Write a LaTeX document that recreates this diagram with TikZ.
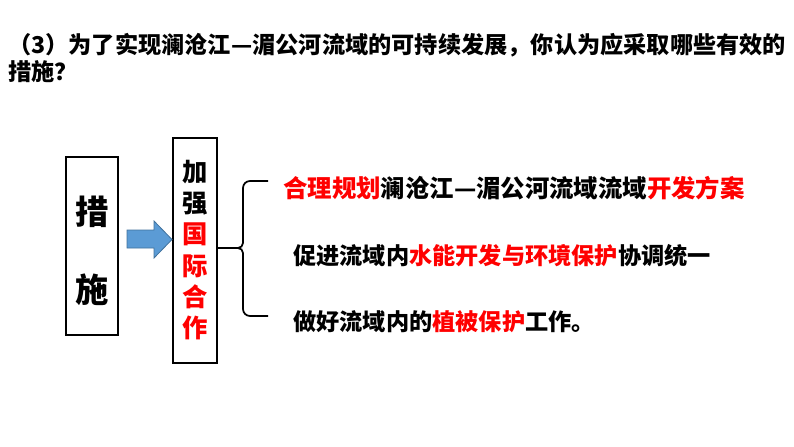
\documentclass[tikz,border=0pt]{standalone}
\usepackage{fontspec}
\setmainfont{Noto Sans CJK SC}
\begin{document}
\begin{tikzpicture}[x=0.75pt,y=-0.75pt,
  box/.style={draw,line width=1.5pt,fill=white},
  txt/.style={anchor=west,inner sep=0pt,font=\fontsize{17.4}{20}\selectfont\bfseries}]
\useasboundingbox (0,0) rectangle (794,447);
\node[txt] (t1) at (8,45) {（3）为了实现澜沧江—湄公河流域的可持续发展，你认为应采取哪些有效的};
\node[txt] (t2) at (8,72) {措施？};
\draw[box] (66,157) rectangle (118,335);
\node[font=\fontsize{25}{28}\selectfont\bfseries] (c1) at (92,212) {措};
\node[font=\fontsize{25}{28}\selectfont\bfseries] (c2) at (92,290) {施};
\draw[box] (173,138) rectangle (217,363);
\node (m) at (195,250) [align=center,font=\fontsize{19}{23.5}\selectfont\bfseries,inner sep=0pt] {加\\强\\\textcolor{red}{国}\\\textcolor{red}{际}\\\textcolor{red}{合}\\\textcolor{red}{作}};
\draw[fill={rgb,255:red,91;green,155;blue,213},draw={rgb,255:red,65;green,113;blue,156},line width=0.6pt]
  (127,230) -- (154,230) -- (154,221) -- (172,239.5) -- (154,258) -- (154,248) -- (127,248) -- cycle;
\coordinate (b0) at (217,248);
\draw[line width=1.3pt] (b0) -- (238,248) to[out=0,in=-90] (243,243) -- (243,188) to[out=90,in=180] (250,181) -- (268,181);
\draw[line width=1.3pt] (238,248) to[out=0,in=90] (243,253) -- (243,309) to[out=-90,in=180] (250,316) -- (268,316);
\node[txt,font=\fontsize{18.3}{20}\selectfont\bfseries] (l1) at (283,188) {\textcolor{red}{合理规划}澜沧江—湄公河流域流域\textcolor{red}{开发方案}};
\node[txt] (l2) at (293,256) {促进流域内\textcolor{red}{水能开发与环境保护}协调统一};
\node[txt] (l3) at (293,322) {做好流域内的\textcolor{red}{植被保护}工作。};
\end{tikzpicture}
\end{document}
